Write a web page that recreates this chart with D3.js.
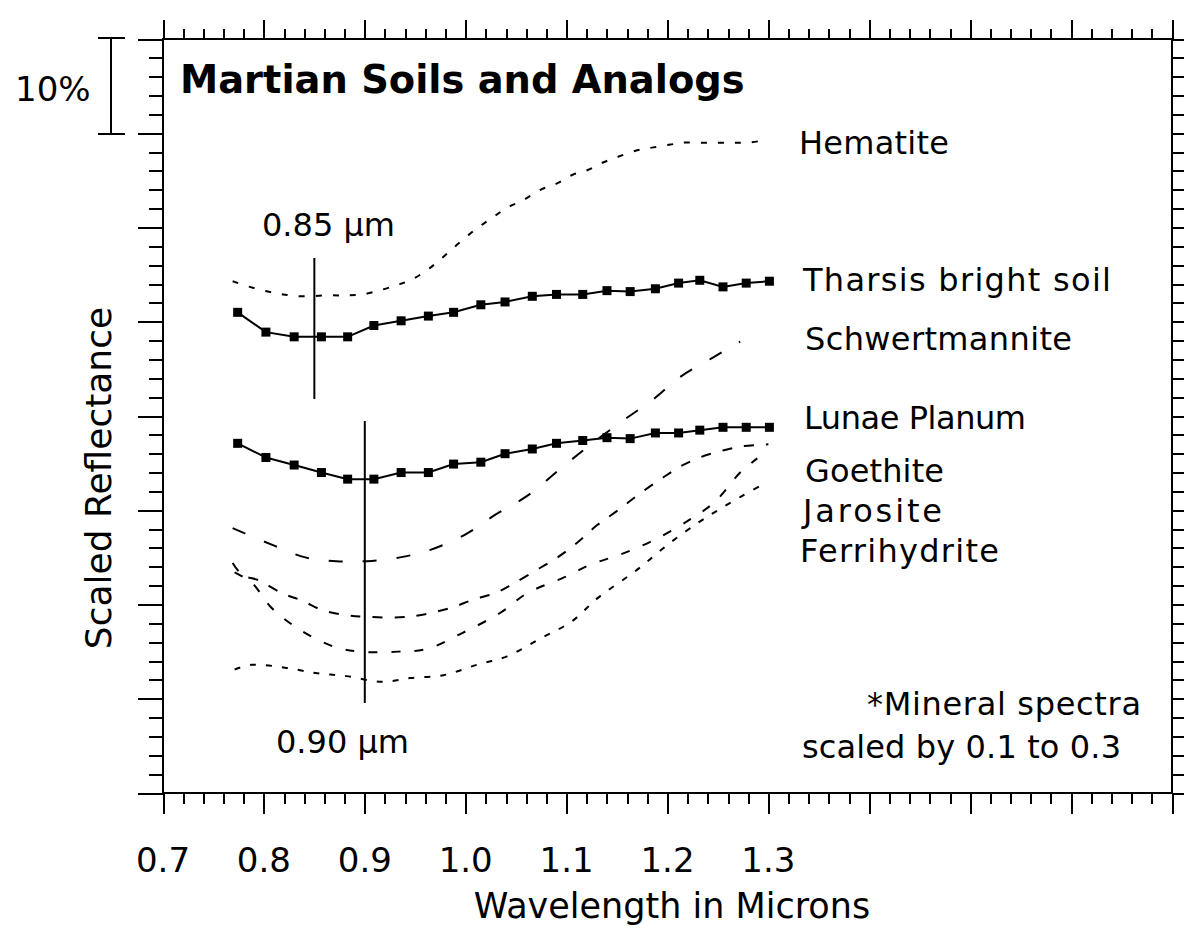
<!DOCTYPE html>
<html>
<head>
<meta charset="utf-8">
<title>Martian Soils and Analogs</title>
<script src="https://cdn.jsdelivr.net/npm/d3@7"></script>
<style>
body { margin: 0; background: #fff; }
svg text { font-family: "DejaVu Sans", sans-serif; fill: #000; }
.axis line { stroke: #000; stroke-width: 2; shape-rendering: crispEdges; }
</style>
</head>
<body>
<svg id="chart" width="1184" height="933"></svg>
<script>

// soil spectra, sampled at the marker wavelengths (microns)
var soilWavelengths = [0.774, 0.802, 0.830, 0.857, 0.883, 0.909, 0.936, 0.963, 0.988, 1.015, 1.039,
                       1.066, 1.090, 1.116, 1.140, 1.163, 1.188, 1.211, 1.232, 1.255, 1.278, 1.301];
var tharsisBright = [51.0, 48.9, 48.4, 48.4, 48.4, 49.6, 50.1, 50.6, 51.0, 51.8, 52.1,
                     52.7, 52.9, 52.9, 53.3, 53.2, 53.5, 54.1, 54.4, 53.7, 54.1, 54.3];
var lunaePlanum = [37.1, 35.6, 34.8, 34.0, 33.3, 33.3, 34.0, 34.0, 34.9, 35.1, 36.0,
                   36.5, 37.1, 37.4, 37.7, 37.6, 38.2, 38.2, 38.5, 38.8, 38.8, 38.8];

// mineral spectra (scaled)
var hematiteX = [0.769, 0.786, 0.804, 0.819, 0.838, 0.863, 0.882, 0.898, 0.917, 0.932, 0.945, 0.962, 0.978,
                 0.994, 1.011, 1.026, 1.041, 1.057, 1.074, 1.091, 1.106, 1.121, 1.136, 1.151, 1.170, 1.186,
                 1.203, 1.215, 1.232, 1.249, 1.265, 1.279, 1.299];
var hematiteY = [54.3, 53.7, 53.2, 52.9, 52.7, 52.8, 52.8, 52.9, 53.4, 53.9, 54.4, 55.5, 56.9,
                 58.4, 59.9, 61.0, 62.1, 62.9, 64.0, 64.7, 65.6, 66.1, 66.9, 67.5, 68.2, 68.5,
                 68.8, 69.0, 69.0, 69.0, 69.0, 69.0, 69.3];

var schwertX = [0.769, 0.809, 0.841, 0.872, 0.902, 0.935, 0.965, 0.999, 1.029, 1.062, 1.095, 1.123,
                1.153, 1.185, 1.212, 1.245, 1.272];
var schwertY = [28.1, 26.3, 25.0, 24.6, 24.6, 25.0, 25.8, 27.4, 29.5, 31.6, 34.5, 36.9,
                39.3, 41.7, 44.1, 46.2, 47.9];

var goethiteX = [0.769, 0.779, 0.794, 0.818, 0.838, 0.858, 0.880, 0.900, 0.943, 0.984, 1.007, 1.029, 1.047,
                 1.074, 1.091, 1.111, 1.130, 1.151, 1.173, 1.196, 1.212, 1.232, 1.257, 1.275, 1.300];
var goethiteY = [24.4, 23.1, 22.6, 21.2, 20.4, 19.4, 18.9, 18.7, 18.7, 19.6, 20.5, 21.2, 22.2,
                 23.9, 25.0, 26.6, 28.4, 30.0, 31.8, 33.5, 34.6, 35.6, 36.4, 36.8, 37.0];

var jarositeX = [0.771, 0.788, 0.808, 0.836, 0.870, 0.895, 0.933, 0.962, 0.997, 1.034, 1.061, 1.098,
                 1.123, 1.153, 1.186, 1.222, 1.247, 1.272, 1.289];
var jarositeY = [23.4, 22.3, 19.6, 17.3, 15.5, 15.0, 15.0, 15.3, 17.0, 19.1, 21.2, 22.9,
                 24.2, 25.3, 26.8, 29.0, 30.9, 34.0, 35.5];

var ferriX = [0.771, 0.788, 0.821, 0.853, 0.882, 0.917, 0.945, 0.978, 1.011, 1.041, 1.074, 1.105,
              1.131, 1.170, 1.202, 1.232, 1.250, 1.272, 1.294];
var ferriY = [13.1, 13.6, 13.3, 12.7, 12.4, 11.8, 12.2, 12.5, 13.6, 14.5, 16.4, 18.2,
              20.7, 23.7, 26.5, 28.8, 30.0, 31.4, 32.7];

var seriesNames = ["Hematite", "Tharsis bright soil", "Schwertmannite", "Lunae Planum",
                   "Goethite", "Jarosite", "Ferrihydrite"];
var tickLabels = [0.7, 0.8, 0.9, 1.0, 1.1, 1.2, 1.3];
var bandCentres = [0.85, 0.90];

var svg = d3.select("#chart");

var x = d3.scaleLinear().domain([0.7, 1.7]).range([163, 1172]);
var y = d3.scaleLinear().domain([0, 80]).range([793, 39]);

// tick marks on all four sides, minor every 0.02 um / 2 %, major every 0.1 um / 10 %
var minorX = d3.range(0, 51).map(function(i) { return +(0.7 + i * 0.02).toFixed(2); });
var majorX = d3.range(0, 11).map(function(i) { return +(0.7 + i * 0.1).toFixed(1); });
var minorY = d3.range(0, 41).map(function(i) { return i * 2; });
var majorY = d3.range(0, 9).map(function(i) { return i * 10; });

function ticks(axis, values, size, transform) {
	svg.append("g")
		.attr("class", "axis")
		.attr("transform", transform)
		.call(axis.tickValues(values).tickSize(size).tickFormat(""))
		.call(function(g) { g.select(".domain").remove(); });
}

ticks(d3.axisBottom(x), minorX, 11, "translate(0,793)");
ticks(d3.axisBottom(x), majorX, 21, "translate(0,793)");
ticks(d3.axisTop(x), minorX, 10, "translate(0,39)");
ticks(d3.axisTop(x), majorX, 19, "translate(0,39)");
ticks(d3.axisLeft(y), minorY, 14, "translate(163,0)");
ticks(d3.axisLeft(y), majorY, 25, "translate(163,0)");
ticks(d3.axisRight(y), minorY, 13, "translate(1172,0)");
ticks(d3.axisRight(y), majorY, 25, "translate(1172,0)");

svg.append("rect")
	.attr("x", x(0.7)).attr("y", y(80))
	.attr("width", x(1.7) - x(0.7)).attr("height", y(0) - y(80))
	.attr("fill", "none").attr("stroke", "#000").attr("stroke-width", 2)
	.attr("shape-rendering", "crispEdges");

// x tick labels
svg.append("g").selectAll("text")
	.data(tickLabels)
	.join("text")
	.attr("x", function(d) { return x(d); })
	.attr("y", 872)
	.attr("text-anchor", "middle")
	.attr("font-size", 34)
	.text(function(d) { return d3.format(".1f")(d); });

svg.append("text")
	.attr("x", 672).attr("y", 918)
	.attr("text-anchor", "middle")
	.attr("font-size", 35)
	.text("Wavelength in Microns");

svg.append("text")
	.attr("transform", "translate(111,478) rotate(-90)")
	.attr("text-anchor", "middle")
	.attr("font-size", 36)
	.text("Scaled Reflectance");

// 10% scale bar
var bar = svg.append("g").attr("stroke", "#000").attr("stroke-width", 2).attr("shape-rendering", "crispEdges");
bar.append("line").attr("x1", 111).attr("x2", 111).attr("y1", y(80)).attr("y2", y(70));
bar.append("line").attr("x1", 98).attr("x2", 125).attr("y1", y(80) - 1).attr("y2", y(80) - 1);
bar.append("line").attr("x1", 98).attr("x2", 125).attr("y1", y(70) + 1).attr("y2", y(70) + 1);
svg.append("text").attr("x", 15).attr("y", 101).attr("font-size", 34).text("10%");

svg.append("text")
	.attr("x", 180).attr("y", 93)
	.attr("font-size", 38.4).attr("font-weight", "bold")
	.text("Martian Soils and Analogs");

// band centre markers
svg.append("line")
	.attr("x1", x(bandCentres[0])).attr("x2", x(bandCentres[0]))
	.attr("y1", 258).attr("y2", 399)
	.attr("stroke", "#000").attr("stroke-width", 2);
svg.append("line")
	.attr("x1", x(bandCentres[1])).attr("x2", x(bandCentres[1]))
	.attr("y1", 421).attr("y2", 703)
	.attr("stroke", "#000").attr("stroke-width", 2);
svg.append("text").attr("x", 262).attr("y", 236).attr("font-size", 32).text("0.85 \u00b5m");
svg.append("text").attr("x", 276).attr("y", 753).attr("font-size", 32).text("0.90 \u00b5m");

// curves
function drawSpectrum(xs, ys, dash) {
	var pts = xs.map(function(d, i) { return [d, ys[i]]; });
	var line = d3.line()
		.x(function(d) { return x(d[0]); })
		.y(function(d) { return y(d[1]); })
		.curve(dash ? d3.curveCatmullRom : d3.curveLinear);
	svg.append("path")
		.datum(pts)
		.attr("d", line)
		.attr("fill", "none")
		.attr("stroke", "#000")
		.attr("stroke-width", 2)
		.attr("stroke-dasharray", dash || null);
	return pts;
}

drawSpectrum(hematiteX, hematiteY, "6,11");
drawSpectrum(schwertX, schwertY, "14,20");
drawSpectrum(goethiteX, goethiteY, "10,12");
drawSpectrum(jarositeX, jarositeY, "9,14");
drawSpectrum(ferriX, ferriY, "6,10");

[tharsisBright, lunaePlanum].forEach(function(vals) {
	var pts = drawSpectrum(soilWavelengths, vals, null);
	svg.append("g").selectAll("rect")
		.data(pts)
		.join("rect")
		.attr("x", function(d) { return x(d[0]) - 4.5; })
		.attr("y", function(d) { return y(d[1]) - 4.5; })
		.attr("width", 9).attr("height", 9)
		.attr("fill", "#000");
});

// series labels, widths stretched to the original's wider bitmap font
var labelX = [799, 803, 805, 804, 805, 803, 800];
var labelY = [154, 291, 350, 429, 482, 522, 562];
var labelW = [150, 308, 267, 222, 139, 139, 199];
svg.append("g").selectAll("text")
	.data(seriesNames)
	.join("text")
	.attr("x", function(d, i) { return labelX[i]; })
	.attr("y", function(d, i) { return labelY[i]; })
	.attr("font-size", 32)
	.attr("textLength", function(d, i) { return labelW[i]; })
	.attr("lengthAdjust", "spacing")
	.text(function(d) { return d; });

svg.append("text").attr("x", 867).attr("y", 715).attr("font-size", 32)
	.attr("textLength", 274).attr("lengthAdjust", "spacing").text("*Mineral spectra");
svg.append("text").attr("x", 802).attr("y", 758).attr("font-size", 32)
	.attr("textLength", 319).attr("lengthAdjust", "spacing").text("scaled by 0.1 to 0.3");

</script>
</body>
</html>
